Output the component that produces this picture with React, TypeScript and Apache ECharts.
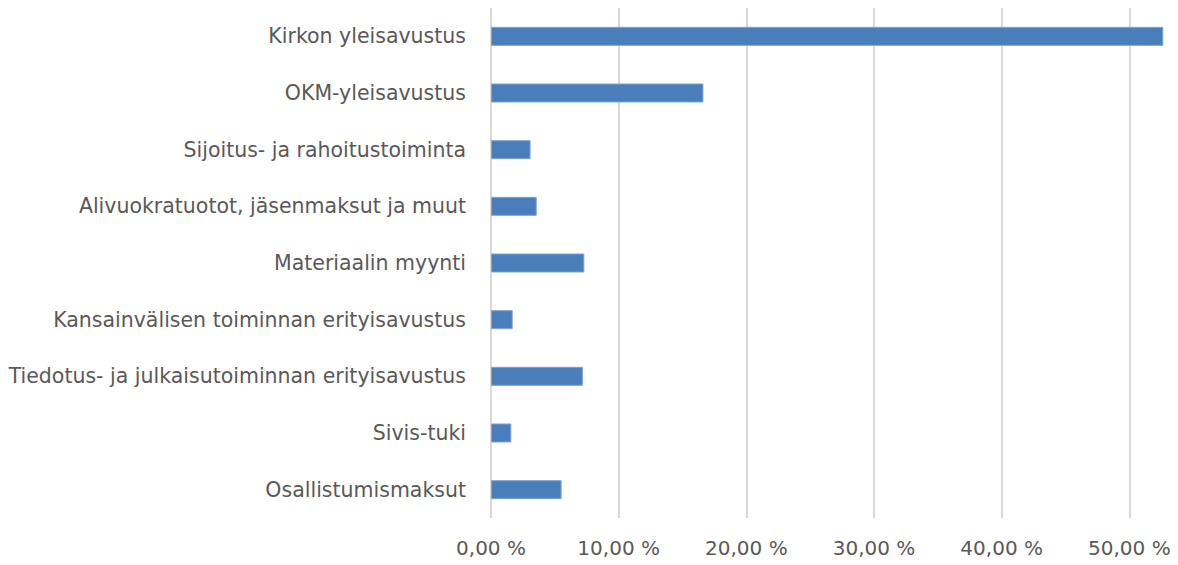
import React, { useEffect, useRef } from "react";
import * as echarts from "echarts";

const categories = [
  "Kirkon yleisavustus",
  "OKM-yleisavustus",
  "Sijoitus- ja rahoitustoiminta",
  "Alivuokratuotot, jäsenmaksut ja muut",
  "Materiaalin myynti",
  "Kansainvälisen toiminnan erityisavustus",
  "Tiedotus- ja julkaisutoiminnan erityisavustus",
  "Sivis-tuki",
  "Osallistumismaksut",
];
const values = [52.66, 16.64, 3.1, 3.58, 7.31, 1.7, 7.2, 1.59, 5.53];
const axisMax = 60;
const axisStep = 10;

const FONT = "DejaVu Sans";

export default function App() {
  const ref = useRef<HTMLDivElement>(null);
  useEffect(() => {
    if (!ref.current) return;
    const chart = echarts.init(ref.current, undefined, { renderer: "svg" });
    chart.setOption({
      animation: false,
      grid: {
        left: 491,
        right: -79,
        top: 8,
        bottom: 47,
        containLabel: false,
        outerBoundsMode: "none",
      },
      xAxis: {
        type: "value",
        min: 0,
        max: axisMax,
        interval: axisStep,
        axisLine: { show: false },
        axisTick: { show: false },
        splitLine: { show: true, lineStyle: { color: "#d9d9d9", width: 2 } },
        axisLabel: {
          margin: 20,
          color: "#595959",
          fontFamily: FONT,
          fontSize: 20,
          showMaxLabel: false,
          formatter: (v: number) => v.toFixed(2).replace(".", ",") + " %",
        },
      },
      yAxis: {
        type: "category",
        data: categories,
        inverse: true,
        axisLine: { show: false },
        axisTick: { show: false },
        axisLabel: {
          margin: 25,
          color: "#595959",
          fontFamily: FONT,
          fontSize: 20.5,
        },
      },
      series: [
        {
          type: "bar",
          data: values,
          barWidth: 19,
          itemStyle: { color: "#4a7ebb", borderColor: "#7fa3d3", borderWidth: 1 },
        },
      ],
    });
    return () => chart.dispose();
  }, []);
  return <div ref={ref} style={{ width: 1178, height: 565, margin: -8 }} />;
}
